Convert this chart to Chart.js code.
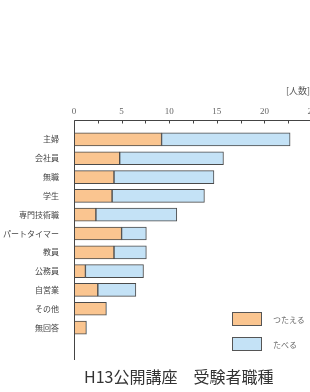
<!DOCTYPE html>
<html lang="ja">
  <head>
    <meta charset="UTF-8" />
    <title>H13公開講座 受験者職種</title>
    <script src="https://cdn.jsdelivr.net/npm/chart.js"></script>
    <style>
      html, body { margin: 0; padding: 0; background: #fff; }
      body { width: 310px; height: 392px; overflow: hidden; position: relative; font-family: "Noto Sans CJK JP", sans-serif; }
      #wrap { position: absolute; left: 0; top: 0; width: 310px; height: 392px; overflow: hidden; }
      .unit { position: absolute; left: 286px; top: 84px; font-size: 9px; color: #555; white-space: nowrap; }
      .legend { position: absolute; left: 232px; top: 312px; font-size: 8px; color: #666; }
      .legend div { display: flex; align-items: center; height: 14px; margin-bottom: 11px; white-space: nowrap; }
      .legend span.box { display: inline-block; width: 28px; height: 12px; border: 1px solid #555; margin-right: 11px; }
      .caption { position: absolute; left: 84px; top: 364px; font-size: 16px; color: #333; white-space: nowrap; }
    </style>
  </head>
  <body>
    <div id="wrap"><canvas id="chart" width="330" height="392"></canvas></div>
    <div class="unit">[人数]</div>
    <div class="legend" id="legend"></div>
    <div class="caption">H13公開講座　受験者職種</div>

    <script>
      // data
      const categories = ['主婦', '会社員', '無職', '学生', '専門技術職', 'パートタイマー', '教員', '公務員', '自営業', 'その他', '無回答'];
      const tsutaeru = [9.2, 4.8, 4.2, 4.0, 2.3, 5.0, 4.2, 1.2, 2.5, 3.4, 1.3];
      const taberu = [13.5, 10.9, 10.5, 9.7, 8.5, 2.6, 3.4, 6.1, 4.0, 0, 0];
      const seriesNames = ['つたえる', 'たべる'];
      const xMax = 25;
      const xStep = 2.5;
      const labelEvery = 5;

      const orange = '#FAC590';
      const blue = '#C4E2F6';
      const edge = '#4a4a4a';

      // top axis line + little tick marks, and the long left axis line
      const axisLines = {
        id: 'axisLines',
        afterDraw(chart) {
          const { ctx, chartArea, scales: { x } } = chart;
          const top = Math.round(chartArea.top - 10) + 0.5;
          const left = Math.round(chartArea.left) + 0.5;
          ctx.save();
          ctx.strokeStyle = '#444';
          ctx.lineWidth = 1;
          ctx.beginPath();
          ctx.moveTo(left, top);
          ctx.lineTo(chart.width, top);
          ctx.moveTo(left, top);
          ctx.lineTo(left, chartArea.bottom + 23);
          x.ticks.forEach(t => {
            const px = Math.round(x.getPixelForValue(t.value)) + 0.5;
            ctx.moveTo(px, top);
            ctx.lineTo(px, top + 3);
          });
          ctx.stroke();
          ctx.restore();
        }
      };

      const chart = new Chart(document.getElementById('chart'), {
        type: 'bar',
        data: {
          labels: categories,
          datasets: [
            { label: seriesNames[0], data: tsutaeru, backgroundColor: orange },
            { label: seriesNames[1], data: taberu, backgroundColor: blue }
          ]
        },
        options: {
          indexAxis: 'y',
          responsive: false,
          animation: false,
          layout: { padding: { left: 0, top: 0, right: 18, bottom: 55 } },
          datasets: {
            bar: {
              barThickness: 13,
              borderColor: edge,
              borderWidth: c => (c.raw ? 1 : 0),
              borderSkipped: false
            }
          },
          plugins: {
            legend: { display: false },
            tooltip: { enabled: false }
          },
          scales: {
            x: {
              position: 'top',
              stacked: true,
              min: 0,
              max: xMax,
              grid: { display: false },
              border: { display: false },
              afterFit: s => { s.height = 130; },
              ticks: {
                stepSize: xStep,
                autoSkip: false,
                maxRotation: 0,
                padding: 5,
                color: '#666',
                font: { family: 'Liberation Serif', size: 9 },
                callback: v => (v % labelEvery === 0 ? String(v) : '')
              }
            },
            y: {
              stacked: true,
              grid: { display: false },
              border: { display: false },
              afterFit: s => { s.width = 74; },
              ticks: {
                padding: 7,
                color: '#444',
                font: { family: 'Noto Sans CJK JP', size: 8 }
              }
            }
          }
        },
        plugins: [axisLines]
      });

      // legend built from the datasets
      const legend = document.getElementById('legend');
      chart.data.datasets.forEach(ds => {
        const row = document.createElement('div');
        row.innerHTML = '<span class="box" style="background:' + ds.backgroundColor + '"></span>' + ds.label;
        legend.appendChild(row);
      });
    </script>
  </body>
</html>
